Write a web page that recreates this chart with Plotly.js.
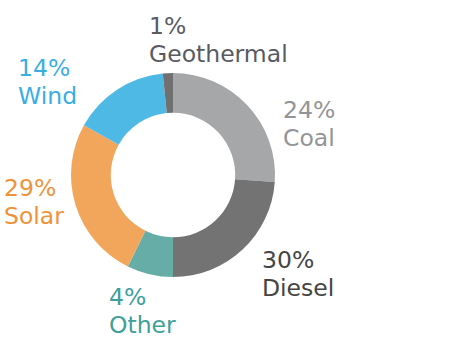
<!DOCTYPE html>
<html>
<head>
<meta charset="utf-8">
<script src="https://cdn.plot.ly/plotly-3.0.1.min.js"></script>
<style>html,body{margin:0;padding:0;background:#fff;}#chart{width:455px;height:351px;}</style>
</head>
<body>
<div id="chart"></div>
<script>
// Categories in drawing order (clockwise from 12 o'clock)
const categories = ["Coal", "Diesel", "Other", "Solar", "Wind", "Geothermal"];
// Slice sizes as drawn in the picture (share of the ring, %)
const sliceShares = [26.1, 23.9, 7.3, 25.8, 15.3, 1.6];
// Percent labels as printed next to each slice
const labelPercents = ["24%", "30%", "4%", "29%", "14%", "1%"];

const sliceColors = ["#a6a7a9", "#737373", "#66aca7", "#f2a65c", "#4fb9e6", "#707070"];
const textColors  = ["#939498", "#454545", "#3f9f9a", "#f0923a", "#3aaee3", "#5a5b62"];
// label left x and baseline of first line, in pixels
const labelPos = [[281, 118], [260, 268], [107, 305], [2, 196], [16, 76], [147, 34]];

const W = 455, H = 351, FS = 23.5, LINE = 28;
const annotations = [];
categories.forEach((c, i) => {
  [labelPercents[i], c].forEach((t, k) => {
    const base = labelPos[i][1] + k * LINE;
    annotations.push({
      xref: "paper", yref: "paper",
      x: labelPos[i][0] / W, y: 1 - (base - 0.32 * FS) / H,
      xanchor: "left", yanchor: "middle", align: "left",
      showarrow: false,
      text: t,
      font: {family: "DejaVu Sans", size: FS, color: textColors[i]}
    });
  });
});

const cx = 173, cy = 175, R = 102;
const data = [{
  type: "pie",
  labels: categories,
  values: sliceShares,
  sort: false,
  direction: "clockwise",
  rotation: 0,
  hole: 0.61,
  textinfo: "none",
  hoverinfo: "label+percent",
  marker: {colors: sliceColors, line: {width: 0}},
  domain: {x: [(cx - R) / W, (cx + R) / W], y: [1 - (cy + R) / H, 1 - (cy - R) / H]}
}];

const layout = {
  width: W, height: H,
  margin: {l: 0, r: 0, t: 0, b: 0},
  showlegend: false,
  paper_bgcolor: "#ffffff",
  annotations: annotations
};

Plotly.newPlot("chart", data, layout, {displayModeBar: false, staticPlot: true});
</script>
</body>
</html>
